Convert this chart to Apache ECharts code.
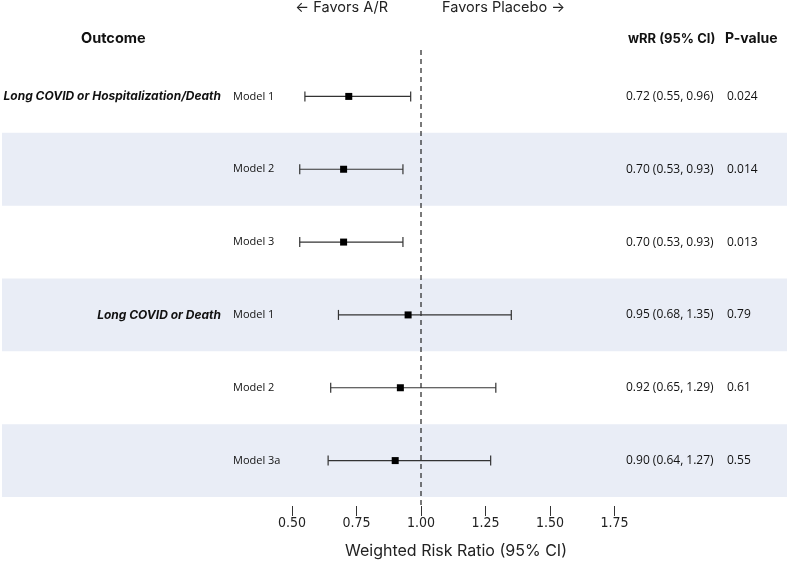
<!DOCTYPE html>
<html><head><meta charset="utf-8">
<script src="https://cdn.jsdelivr.net/npm/echarts@6/dist/echarts.min.js"></script>
<style>html,body{margin:0;padding:0;background:#fff}#c{width:789px;height:566px}</style>
</head><body><div id="c"></div>
<script>
const outcomes = ['Long COVID or Hospitalization/Death', '', '', 'Long COVID or Death', '', ''];
const models = ['Model 1', 'Model 2', 'Model 3', 'Model 1', 'Model 2', 'Model 3a'];
const estimates = [0.72, 0.70, 0.70, 0.95, 0.92, 0.90];
const lower = [0.55, 0.53, 0.53, 0.68, 0.65, 0.64];
const upper = [0.96, 0.93, 0.93, 1.35, 1.29, 1.27];
const ciText = ['0.72 (0.55, 0.96)', '0.70 (0.53, 0.93)', '0.70 (0.53, 0.93)', '0.95 (0.68, 1.35)', '0.92 (0.65, 1.29)', '0.90 (0.64, 1.27)'];
const pValues = ['0.024', '0.014', '0.013', '0.79', '0.61', '0.55'];
const tickValues = [0.5, 0.75, 1.0, 1.25, 1.5, 1.75];
const refValue = 1.0;

const rows = models.map((m, i) => i);
const chart = echarts.init(document.getElementById('c'));
const txtFont = '"Open Sans", "Noto Sans", sans-serif';
const hdrFont = 'Inter, "Open Sans", sans-serif';
const narrowFont = '"Liberation Sans Narrow", "DejaVu Sans Condensed", "Liberation Sans", sans-serif';

const dataRows = rows.map(i => [estimates[i], i, lower[i], upper[i]]);

chart.setOption({
  animation: false,
  grid: { left: 0, right: 2, top: 60, bottom: 69 },
  xAxis: {
    type: 'value', min: -0.6318, max: 2.4186,
    offset: 9,
    splitLine: { show: false },
    axisLine: { lineStyle: { color: '#000', width: 1 } },
    axisTick: { show: true, customValues: tickValues, length: 10, lineStyle: { color: '#333' } },
    axisLabel: { customValues: tickValues, formatter: v => v.toFixed(2), color: '#222', fontSize: 14, margin: 10, fontFamily: narrowFont }
  },
  yAxis: {
    type: 'category', data: models, inverse: true,
    axisLine: { show: false }, axisTick: { show: false }, axisLabel: { show: false }, splitLine: { show: false }
  },
  graphic: [
    { type: 'text', x: 81, y: 39, style: { text: 'Outcome', font: 'bold 14.5px ' + hdrFont, fill: '#111', verticalAlign: 'middle' } },
    { type: 'text', x: 628, y: 39, style: { text: 'wRR (95% CI)', font: 'bold 13px ' + hdrFont, fill: '#111', verticalAlign: 'middle' } },
    { type: 'text', x: 725, y: 39, style: { text: 'P-value', font: 'bold 14px ' + hdrFont, fill: '#111', verticalAlign: 'middle' } },
    { type: 'text', x: 388, y: 8, style: { text: '← Favors A/R', font: '14.5px ' + hdrFont, fill: '#222', align: 'right', verticalAlign: 'middle' } },
    { type: 'text', x: 442, y: 8, style: { text: 'Favors Placebo →', font: '14.5px ' + hdrFont, fill: '#222', align: 'left', verticalAlign: 'middle' } },
    { type: 'text', x: 456, y: 551, style: { text: 'Weighted Risk Ratio (95% CI)', font: '16px ' + hdrFont, fill: '#222', align: 'center', verticalAlign: 'middle' } }
  ],
  series: [
    {
      type: 'custom', name: 'bands', silent: true, z: 0,
      data: rows.filter(i => i % 2 === 1).map(i => [0, i]),
      renderItem: (params, api) => {
        const c = api.coord([0, api.value(1)]);
        const h = api.size([0, 1])[1];
        return { type: 'rect', shape: { x: 2, y: c[1] - h / 2, width: 785, height: h }, style: { fill: '#e9edf6' } };
      }
    },
    {
      type: 'custom', name: 'ref', silent: true, z: 1,
      data: [[refValue, 0]],
      renderItem: (params, api) => {
        const x = api.coord([api.value(0), 0])[0];
        const cs = params.coordSys;
        return { type: 'line', shape: { x1: x, y1: cs.y - 10, x2: x, y2: cs.y + cs.height + 9 }, style: { stroke: '#222', lineWidth: 1.2, lineDash: [5, 4] } };
      }
    },
    {
      type: 'custom', name: 'ci', z: 3,
      data: dataRows,
      renderItem: (params, api) => {
        const y = api.value(1);
        const p = api.coord([api.value(0), y]);
        const l = api.coord([api.value(2), y]);
        const u = api.coord([api.value(3), y]);
        const cap = 5, s = 3.5;
        return { type: 'group', children: [
          { type: 'line', shape: { x1: l[0], y1: l[1], x2: u[0], y2: u[1] }, style: { stroke: '#333', lineWidth: 1.2 } },
          { type: 'line', shape: { x1: l[0], y1: l[1] - cap, x2: l[0], y2: l[1] + cap }, style: { stroke: '#333', lineWidth: 1.2 } },
          { type: 'line', shape: { x1: u[0], y1: u[1] - cap, x2: u[0], y2: u[1] + cap }, style: { stroke: '#333', lineWidth: 1.2 } },
          { type: 'rect', shape: { x: p[0] - s, y: p[1] - s, width: 2 * s, height: 2 * s }, style: { fill: '#000' } }
        ] };
      }
    },
    {
      type: 'custom', name: 'labels', silent: true, z: 4,
      data: rows.map(i => [0, i]),
      renderItem: (params, api) => {
        const i = params.dataIndex;
        const y = api.coord([0, api.value(1)])[1];
        const kids = [
          { type: 'text', x: 233, y: y, style: { text: models[i], font: '11px ' + txtFont, fill: '#111', align: 'left', verticalAlign: 'middle' } },
          { type: 'text', x: 626, y: y, style: { text: ciText[i], font: '12px ' + txtFont, fill: '#111', align: 'left', verticalAlign: 'middle' } },
          { type: 'text', x: 727, y: y, style: { text: pValues[i], font: '12px ' + txtFont, fill: '#111', align: 'left', verticalAlign: 'middle' } }
        ];
        if (outcomes[i]) kids.push({ type: 'text', x: 221, y: y, style: { text: outcomes[i], font: 'italic bold 12px ' + hdrFont, fill: '#111', align: 'right', verticalAlign: 'middle' } });
        return { type: 'group', children: kids };
      }
    }
  ]
});
</script></body></html>
